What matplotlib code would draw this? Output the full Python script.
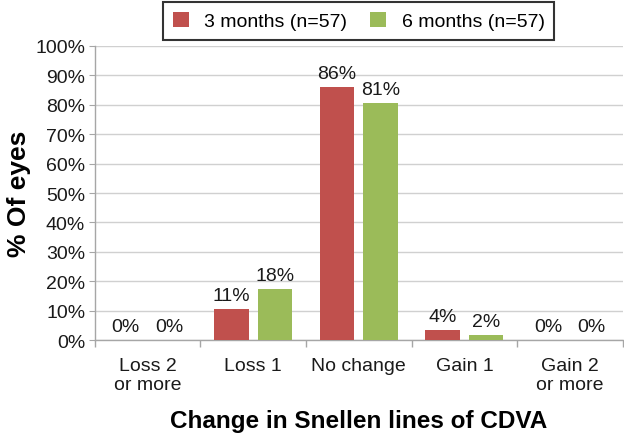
import matplotlib
matplotlib.use("Agg")
import matplotlib.pyplot as plt
import numpy as np

plt.rcParams['font.family'] = ['Liberation Sans', 'DejaVu Sans']

categories = ["Loss 2\nor more", "Loss 1", "No change", "Gain 1", "Gain 2\nor more"]
series_names = ["3 months (n=57)", "6 months (n=57)"]
values_3m = [0.0, 10.5, 86.0, 3.5, 0.0]
values_6m = [0.0, 17.5, 80.7, 1.75, 0.0]
labels_3m = ["0%", "11%", "86%", "4%", "0%"]
labels_6m = ["0%", "18%", "81%", "2%", "0%"]
yticks = [0, 10, 20, 30, 40, 50, 60, 70, 80, 90, 100]
ytick_labels = [f"{t}%" for t in yticks]

colors = ["#C0504D", "#9BBB59"]
txt = '#1a1a1a'

fig = plt.figure(figsize=(6.24, 4.35), dpi=100)
ax = fig.add_axes([0.152, 0.216, 0.846, 0.676])

x = np.arange(len(categories))
w = 0.326
off = 0.207
b1 = ax.bar(x - off, values_3m, w, color=colors[0], label=series_names[0], zorder=3)
b2 = ax.bar(x + off, values_6m, w, color=colors[1], label=series_names[1], zorder=3)

for xi, v, lab in zip(x - off, values_3m, labels_3m):
    ax.text(xi, v + 1.6, lab, ha='center', va='bottom', fontsize=14, color=txt)
for xi, v, lab in zip(x + off, values_6m, labels_6m):
    ax.text(xi, v + 1.6, lab, ha='center', va='bottom', fontsize=14, color=txt)

ax.set_xlim(-0.5, len(categories) - 0.5)
ax.set_ylim(0, 100)
ax.set_yticks(yticks)
ax.set_yticklabels(ytick_labels, fontsize=14, color=txt)
ax.set_xticks(x)
ax.set_xticklabels(categories, fontsize=14, color=txt, linespacing=1.2)
ax.tick_params(axis='x', length=0, pad=12)
ax.set_xticks(np.arange(-0.5, len(categories)), minor=True)
ax.tick_params(axis='x', which='minor', length=5, color='#A6A6A6', width=1)
ax.tick_params(axis='y', length=4, color='#A6A6A6', pad=3)

ax.grid(axis='y', color='#D0D0D0', linewidth=1, zorder=0)
for s in ['top', 'right']:
    ax.spines[s].set_visible(False)
for s in ['left', 'bottom']:
    ax.spines[s].set_color('#A6A6A6')
    ax.spines[s].set_linewidth(1)

ax.set_ylabel("% Of eyes", fontsize=19, fontweight='bold', labelpad=3)
ax.set_xlabel("Change in Snellen lines of CDVA", fontsize=17.5, fontweight='bold', labelpad=11)

leg = fig.legend(handles=[b1, b2], loc='center', bbox_to_anchor=(0.575, 0.95), ncol=2,
                 fontsize=14, frameon=True, fancybox=False, edgecolor='black',
                 handlelength=0.8, handleheight=0.8, columnspacing=1.2, handletextpad=0.8,
                 borderpad=0.5)
leg.get_frame().set_linewidth(1.5)

fig.savefig("out.png", dpi=100)
